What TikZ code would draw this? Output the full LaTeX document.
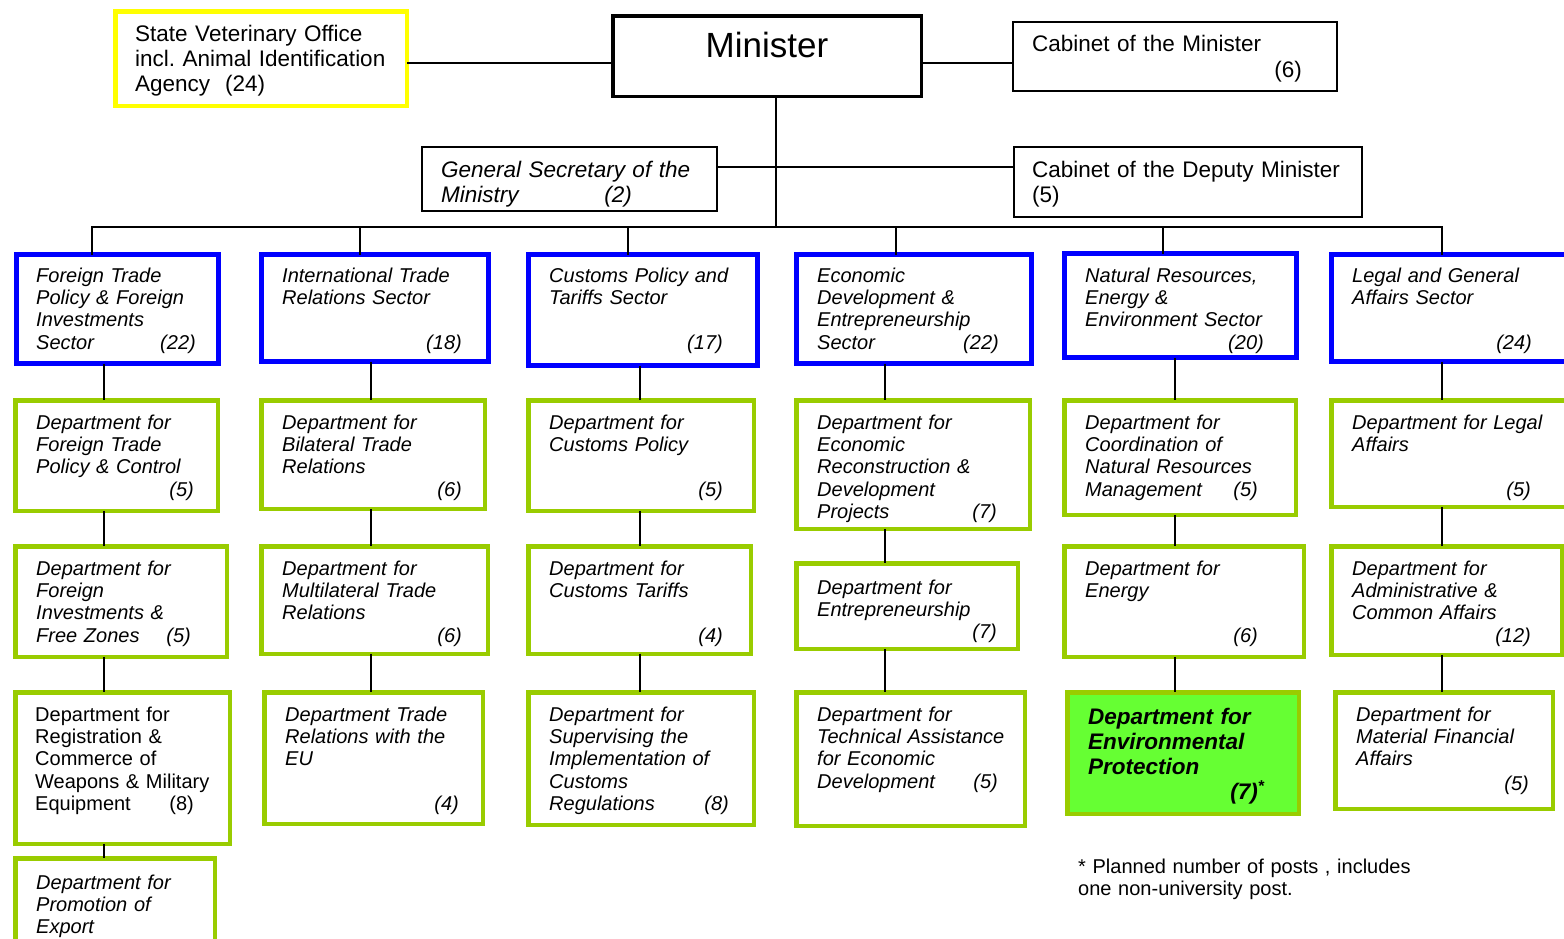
\documentclass[tikz,border=0pt]{standalone}
\usepackage{fontspec}
\setmainfont{Liberation Sans}
\frenchspacing
\definecolor{secblue}{RGB}{0,0,255}
\definecolor{depgreen}{RGB}{153,204,0}
\definecolor{envfill}{RGB}{102,255,51}
\definecolor{vetyellow}{RGB}{255,255,0}
\newcommand\obox[7]{%
  \pgfmathsetmacro\obw{#5-#3-#7}%
  \pgfmathsetmacro\obh{#6-#4-#7}%
  \node[#1,minimum width=\obw pt,minimum height=\obh pt] (#2) at ({(#3+#5)/2},{(#4+#6)/2}) {};%
}
\tikzset{
  box/.style={rectangle, inner sep=0pt, outer sep=0pt, fill=white},
  sectorbox/.style={box, draw=secblue, line width=5pt},
  deptbox/.style={box, draw=depgreen, line width=4.5pt},
  envbox/.style={deptbox, fill=envfill},
  thinbox/.style={box, draw=black, line width=1.6pt},
  minbox/.style={box, draw=black, line width=3.5pt},
  vetbox/.style={box, draw=vetyellow, line width=4.5pt},
  txt/.style={anchor=base west, inner sep=0pt, align=left, text width=420pt, font=\fontsize{20}{22.4}\selectfont\itshape},
  txtup/.style={txt, font=\fontsize{20}{22.4}\selectfont},
  bigtxt/.style={txt, font=\fontsize{22.5}{25}\selectfont},
  bigit/.style={txt, font=\fontsize{22.5}{25}\selectfont\itshape},
  envtxt/.style={txt, font=\fontsize{22.5}{25}\selectfont\bfseries\itshape},
  num/.style={anchor=base east, inner sep=0pt, font=\fontsize{20}{22.4}\selectfont\itshape},
  numup/.style={num, font=\fontsize{20}{22.4}\selectfont},
  bignum/.style={num, font=\fontsize{22.5}{25}\selectfont},
  bigitnum/.style={num, font=\fontsize{22.5}{25}\selectfont\itshape},
  envnum/.style={num, font=\fontsize{22.5}{25}\selectfont\bfseries\itshape},
  conn/.style={draw=black, line width=1.8pt},
}
\begin{document}
\begin{tikzpicture}[x=1pt,y=-1pt]
\useasboundingbox (0,0) rectangle (1564,938);
\clip (0,0) rectangle (1564,938);
% top level boxes
\obox{vetbox}{vet}{113}{9}{409}{108}{4.5}
\obox{minbox}{min}{611}{14}{923}{98}{3.5}
\obox{thinbox}{cab}{1012}{21}{1338}{92}{1.6}
\obox{thinbox}{gen}{421}{146}{718}{212}{1.6}
\obox{thinbox}{dep}{1013}{146}{1363}{218}{1.6}
% sectors
\obox{sectorbox}{s1}{14}{252}{221}{366}{5}
\obox{sectorbox}{s2}{259}{252}{491}{364}{5}
\obox{sectorbox}{s3}{526}{252}{760}{368}{5}
\obox{sectorbox}{s4}{794}{252}{1034}{366}{5}
\obox{sectorbox}{s5}{1062}{251}{1299}{360}{5}
\obox{sectorbox}{s6}{1329}{252}{1620}{364}{5}
% departments
\obox{deptbox}{d11}{13}{398}{220}{513}{4.5}
\obox{deptbox}{d12}{13}{544}{229}{659}{4.5}
\obox{deptbox}{d13}{13}{690}{232}{846}{4.5}
\obox{deptbox}{d14}{13}{856}{217}{990}{4.5}
\obox{deptbox}{d21}{259}{398}{487}{511}{4.5}
\obox{deptbox}{d22}{259}{544}{490}{656}{4.5}
\obox{deptbox}{d23}{262}{690}{485}{826}{4.5}
\obox{deptbox}{d31}{526}{398}{756}{513}{4.5}
\obox{deptbox}{d32}{526}{544}{753}{656}{4.5}
\obox{deptbox}{d33}{526}{690}{756}{827}{4.5}
\obox{deptbox}{d41}{794}{398}{1032}{531}{4.5}
\obox{deptbox}{d42}{794}{561}{1020}{651}{4.5}
\obox{deptbox}{d43}{794}{690}{1027}{828}{4.5}
\obox{deptbox}{d51}{1062}{398}{1298}{517}{4.5}
\obox{deptbox}{d52}{1062}{544}{1306}{659}{4.5}
\obox{envbox}{d53}{1065}{690}{1301}{816}{4.5}
\obox{deptbox}{d61}{1329}{398}{1620}{509}{4.5}
\obox{deptbox}{d62}{1329}{544}{1564}{657}{4.5}
\obox{deptbox}{d63}{1333}{690}{1555}{811}{4.5}
% helper coordinates
\coordinate (h1) at (0,63);
\coordinate (h2) at (0,167);
\coordinate (mb) at (776,227);
\coordinate (b1) at (92,227);
\coordinate (b2) at (360,227);
\coordinate (b3) at (628,227);
\coordinate (b4) at (896,227);
\coordinate (b5) at (1163,227);
\coordinate (b6) at (1442,227);
\coordinate (c1) at (104,0);
\coordinate (c2) at (371,0);
\coordinate (c3) at (640,0);
\coordinate (c4) at (885,0);
\coordinate (c5) at (1175,0);
\coordinate (c6) at (1442,0);
% connectors
\draw[conn] (vet.east |- h1) -- (min.west |- h1);
\draw[conn] (min.east |- h1) -- (cab.west |- h1);
\draw[conn] (gen.east |- h2) -- (dep.west |- h2);
\draw[conn] (min.south -| mb) -- (mb);
\draw[conn] (s1.north -| b1) -- (b1) -- (b6) -- (s6.north -| b6);
\draw[conn] (b2) -- (s2.north -| b2);
\draw[conn] (b3) -- (s3.north -| b3);
\draw[conn] (b4) -- (s4.north -| b4);
\draw[conn] (b5) -- (s5.north -| b5);
\draw[conn] (s1.south -| c1) -- (d11.north -| c1);
\draw[conn] (d11.south -| c1) -- (d12.north -| c1);
\draw[conn] (d12.south -| c1) -- (d13.north -| c1);
\draw[conn] (d13.south -| c1) -- (d14.north -| c1);
\draw[conn] (s2.south -| c2) -- (d21.north -| c2);
\draw[conn] (d21.south -| c2) -- (d22.north -| c2);
\draw[conn] (d22.south -| c2) -- (d23.north -| c2);
\draw[conn] (s3.south -| c3) -- (d31.north -| c3);
\draw[conn] (d31.south -| c3) -- (d32.north -| c3);
\draw[conn] (d32.south -| c3) -- (d33.north -| c3);
\draw[conn] (s4.south -| c4) -- (d41.north -| c4);
\draw[conn] (d41.south -| c4) -- (d42.north -| c4);
\draw[conn] (d42.south -| c4) -- (d43.north -| c4);
\draw[conn] (s5.south -| c5) -- (d51.north -| c5);
\draw[conn] (d51.south -| c5) -- (d52.north -| c5);
\draw[conn] (d52.south -| c5) -- (d53.north -| c5);
\draw[conn] (s6.south -| c6) -- (d61.north -| c6);
\draw[conn] (d61.south -| c6) -- (d62.north -| c6);
\draw[conn] (d62.south -| c6) -- (d63.north -| c6);
% top texts
\node[bigtxt] (tvet) at (135,41) {State Veterinary Office\\incl. Animal Identification\\Agency~~(24)};
\node[anchor=base, inner sep=0pt, font=\fontsize{35}{40}\selectfont] (tmin) at (767,57) {Minister};
\node[bigtxt] (tcab) at (1032,51) {Cabinet of the Minister};
\node[bignum] (ncab) at (1302,77) {(6)};
\node[bigit] (tgen) at (441,177) {General Secretary of the\\Ministry};
\node[bigitnum] (ngen) at (632,202) {(2)};
\node[bigtxt] (tdep) at (1032,177) {Cabinet of the Deputy Minister\\(5)};
% sector texts
\node[txt] (ts1) at (36,282) {Foreign Trade\\Policy \& Foreign\\Investments\\Sector};
\node[num] (ns1) at (196,349) {(22)};
\node[txt] (ts2) at (282,282) {International Trade\\Relations Sector};
\node[num] (ns2) at (462,349) {(18)};
\node[txt] (ts3) at (549,282) {Customs Policy and\\Tariffs Sector};
\node[num] (ns3) at (723,349) {(17)};
\node[txt] (ts4) at (817,282) {Economic\\Development \&\\Entrepreneurship\\Sector};
\node[num] (ns4) at (999,349) {(22)};
\node[txt] (ts5) at (1085,282) {Natural Resources,\\Energy \&\\Environment Sector};
\node[num] (ns5) at (1264,349) {(20)};
\node[txt] (ts6) at (1352,282) {Legal and General\\Affairs Sector};
\node[num] (ns6) at (1532,349) {(24)};
% row 1
\node[txt] (t11) at (36,429) {Department for\\Foreign Trade\\Policy \& Control};
\node[num] (n11) at (194,496) {(5)};
\node[txt] (t21) at (282,429) {Department for\\Bilateral Trade\\Relations};
\node[num] (n21) at (462,496) {(6)};
\node[txt] (t31) at (549,429) {Department for\\Customs Policy};
\node[num] (n31) at (723,496) {(5)};
\node[txt] (t41) at (817,429) {Department for\\Economic\\Reconstruction \&\\Development\\Projects};
\node[num] (n41) at (997,518.6) {(7)};
\node[txt] (t51) at (1085,429) {Department for\\Coordination of\\Natural Resources\\Management};
\node[num] (n51) at (1258,496) {(5)};
\node[txt] (t61) at (1352,429) {Department for Legal\\Affairs};
\node[num] (n61) at (1531,496) {(5)};
% row 2
\node[txt] (t12) at (36,575) {Department for\\Foreign\\Investments \&\\Free Zones};
\node[num] (n12) at (191,642) {(5)};
\node[txt] (t22) at (282,575) {Department for\\Multilateral Trade\\Relations};
\node[num] (n22) at (462,642) {(6)};
\node[txt] (t32) at (549,575) {Department for\\Customs Tariffs};
\node[num] (n32) at (723,642) {(4)};
\node[txt] (t42) at (817,594) {Department for\\Entrepreneurship};
\node[num] (n42) at (997,638) {(7)};
\node[txt] (t52) at (1085,575) {Department for\\Energy};
\node[num] (n52) at (1258,642) {(6)};
\node[txt] (t62) at (1352,575) {Department for\\Administrative \&\\Common Affairs};
\node[num] (n62) at (1531,642) {(12)};
% row 3
\node[txtup] (t13) at (35,721) {Department for\\Registration \&\\Commerce of\\Weapons \& Military\\Equipment};
\node[numup] (n13) at (194,810.6) {(8)};
\node[txt] (t23) at (285,721) {Department Trade\\Relations with the\\EU};
\node[num] (n23) at (459,810.6) {(4)};
\node[txt] (t33) at (549,721) {Department for\\Supervising the\\Implementation of\\Customs\\Regulations};
\node[num] (n33) at (729,810.6) {(8)};
\node[txt] (t43) at (817,721) {Department for\\Technical Assistance\\for Economic\\Development};
\node[num] (n43) at (998,788) {(5)};
\node[envtxt] (t53) at (1088,724) {Department for\\Environmental\\Protection};
\node[envnum] (n53) at (1258,799) {(7)\rlap{\textsuperscript{*}}};
\node[txt] (t63) at (1356,721) {Department for\\Material Financial\\Affairs};
\node[num] (n63) at (1529,790) {(5)};
% row 4
\node[txt] (t14) at (36,889) {Department for\\Promotion of\\Export};
% footnote
\node[txtup] (foot) at (1078,873) {* Planned number of posts , includes\\one non-university post.};
\end{tikzpicture}
\end{document}
